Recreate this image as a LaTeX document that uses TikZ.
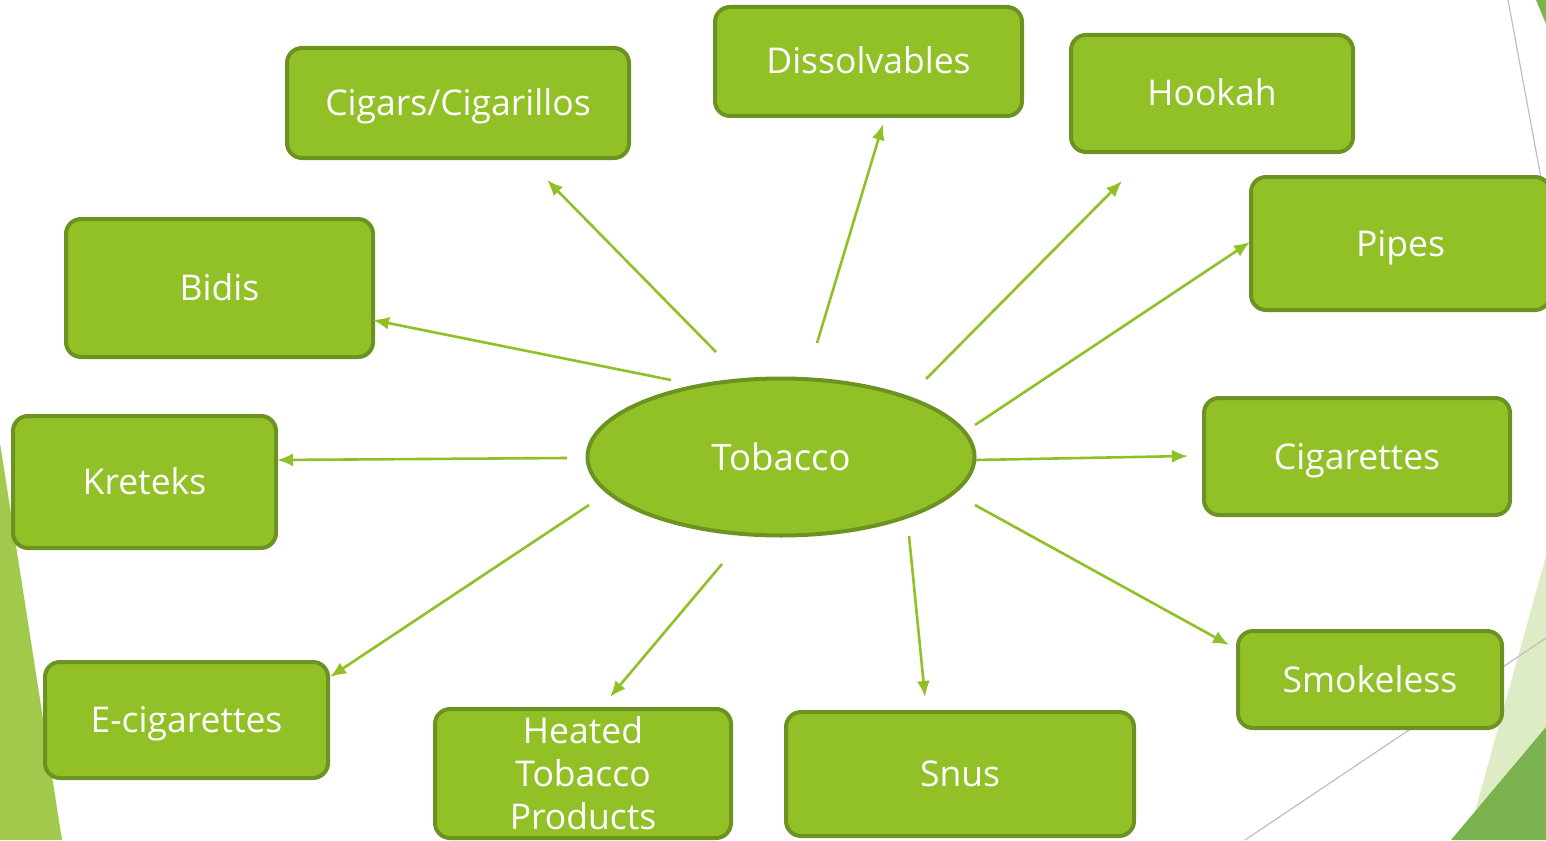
\documentclass[tikz,border=0pt]{standalone}
\usepackage{fontspec}
\setmainfont{Open Sans}
\usetikzlibrary{shapes.geometric,arrows.meta}
\definecolor{boxfill}{HTML}{92C027}
\definecolor{boxline}{HTML}{6C9321}
\definecolor{arrcol}{HTML}{8FC127}
\definecolor{bgleft}{HTML}{A1CA4D}
\definecolor{bglight}{HTML}{DEECC6}
\definecolor{bgdark}{HTML}{7AB24F}
\definecolor{graylin}{HTML}{BFBFBF}
\tikzset{
  item/.style={draw=boxline, line width=4pt, fill=boxfill, rounded corners=15pt,
    text=white, font=\fontsize{35.5}{43}\selectfont, inner sep=0pt, align=center},
  oneline/.style={text height=25pt, text depth=0pt},
  hub/.style={ellipse, draw=boxline, line width=4pt, fill=boxfill, text=white,
    font=\fontsize{36.5}{43}\selectfont, inner sep=0pt, minimum width=387pt, minimum height=157pt,
    text height=26pt, text depth=0pt},
  arr/.style={draw=arrcol, line width=2.6pt, -{Latex[length=16pt,width=13pt]}},
}
\begin{document}
\begin{tikzpicture}[x=1pt,y=-1pt]
\useasboundingbox (0,0) rectangle (1546,840);
\clip (0,0) rectangle (1546,840);
% background decorations
\fill[bgleft] (0,443) -- (62,840) -- (0,840) -- cycle;
\fill[bglight] (1546,556) -- (1546,840) -- (1467,840) -- cycle;
\fill[bgdark] (1546,727) -- (1546,840) -- (1451,840) -- cycle;
\fill[bgdark] (1536,0) -- (1546,0) -- (1546,24) -- cycle;
\draw[graylin, line width=1.2pt] (1508,0) -- (1546,205);
\draw[graylin, line width=1.2pt] (1546,638) -- (1245,840);
% nodes
\node[hub] (tob) at (781,457) {Tobacco};
\node[item, oneline, minimum width=342pt, minimum height=110pt] (cigars) at (458,103) {Cigars/Cigarillos};
\node[item, oneline, minimum width=307pt, minimum height=109pt] (diss) at (868.5,61.5) {Dissolvables};
\node[item, oneline, minimum width=282pt, minimum height=117pt] (hookah) at (1212,93.5) {Hookah};
\node[item, oneline, minimum width=299pt, minimum height=133pt] (pipes) at (1400.5,243.5) {Pipes};
\node[item, oneline, minimum width=307pt, minimum height=138pt] (bidis) at (219.5,288) {Bidis};
\node[item, oneline, minimum width=263pt, minimum height=132pt] (kreteks) at (144.5,482) {Kreteks};
\node[item, oneline, minimum width=306pt, minimum height=117pt] (cigs) at (1357,456.5) {Cigarettes};
\node[item, oneline, minimum width=283pt, minimum height=116pt] (ecig) at (186.5,720) {E-cigarettes};
\node[item, minimum width=296pt, minimum height=129pt] (heated) at (583,773.5) {Heated\\Tobacco\\Products};
\node[item, oneline, minimum width=348pt, minimum height=124pt] (snus) at (960,774) {Snus};
\node[item, oneline, minimum width=264pt, minimum height=97pt] (smoke) at (1370,679.5) {Smokeless};
% connector end points
\coordinate (s1) at (716,352);  \coordinate (e1) at (547,180);
\coordinate (s2) at (817,343);  \coordinate (e2) at (883,124);
\coordinate (s3) at (926,379);  \coordinate (e3) at (1122,181);
\coordinate (s4) at (975,425);  \coordinate (e4) at (1250,242);
\coordinate (s5) at (976,460);  \coordinate (e5) at (1188,456);
\coordinate (s6) at (975,505);  \coordinate (e6) at (1229,645);
\coordinate (s7) at (909,536);  \coordinate (e7) at (925,697);
\coordinate (s8) at (722,564);  \coordinate (e8) at (610,697);
\coordinate (s9) at (589,505);  \coordinate (e9) at (330,677);
\coordinate (s10) at (567,458); \coordinate (e10) at (277,460);
\coordinate (s11) at (671,380); \coordinate (e11) at (373,320);
\foreach \i in {1,...,11} {\draw[arr] (s\i) -- (e\i);}
\end{tikzpicture}
\end{document}
